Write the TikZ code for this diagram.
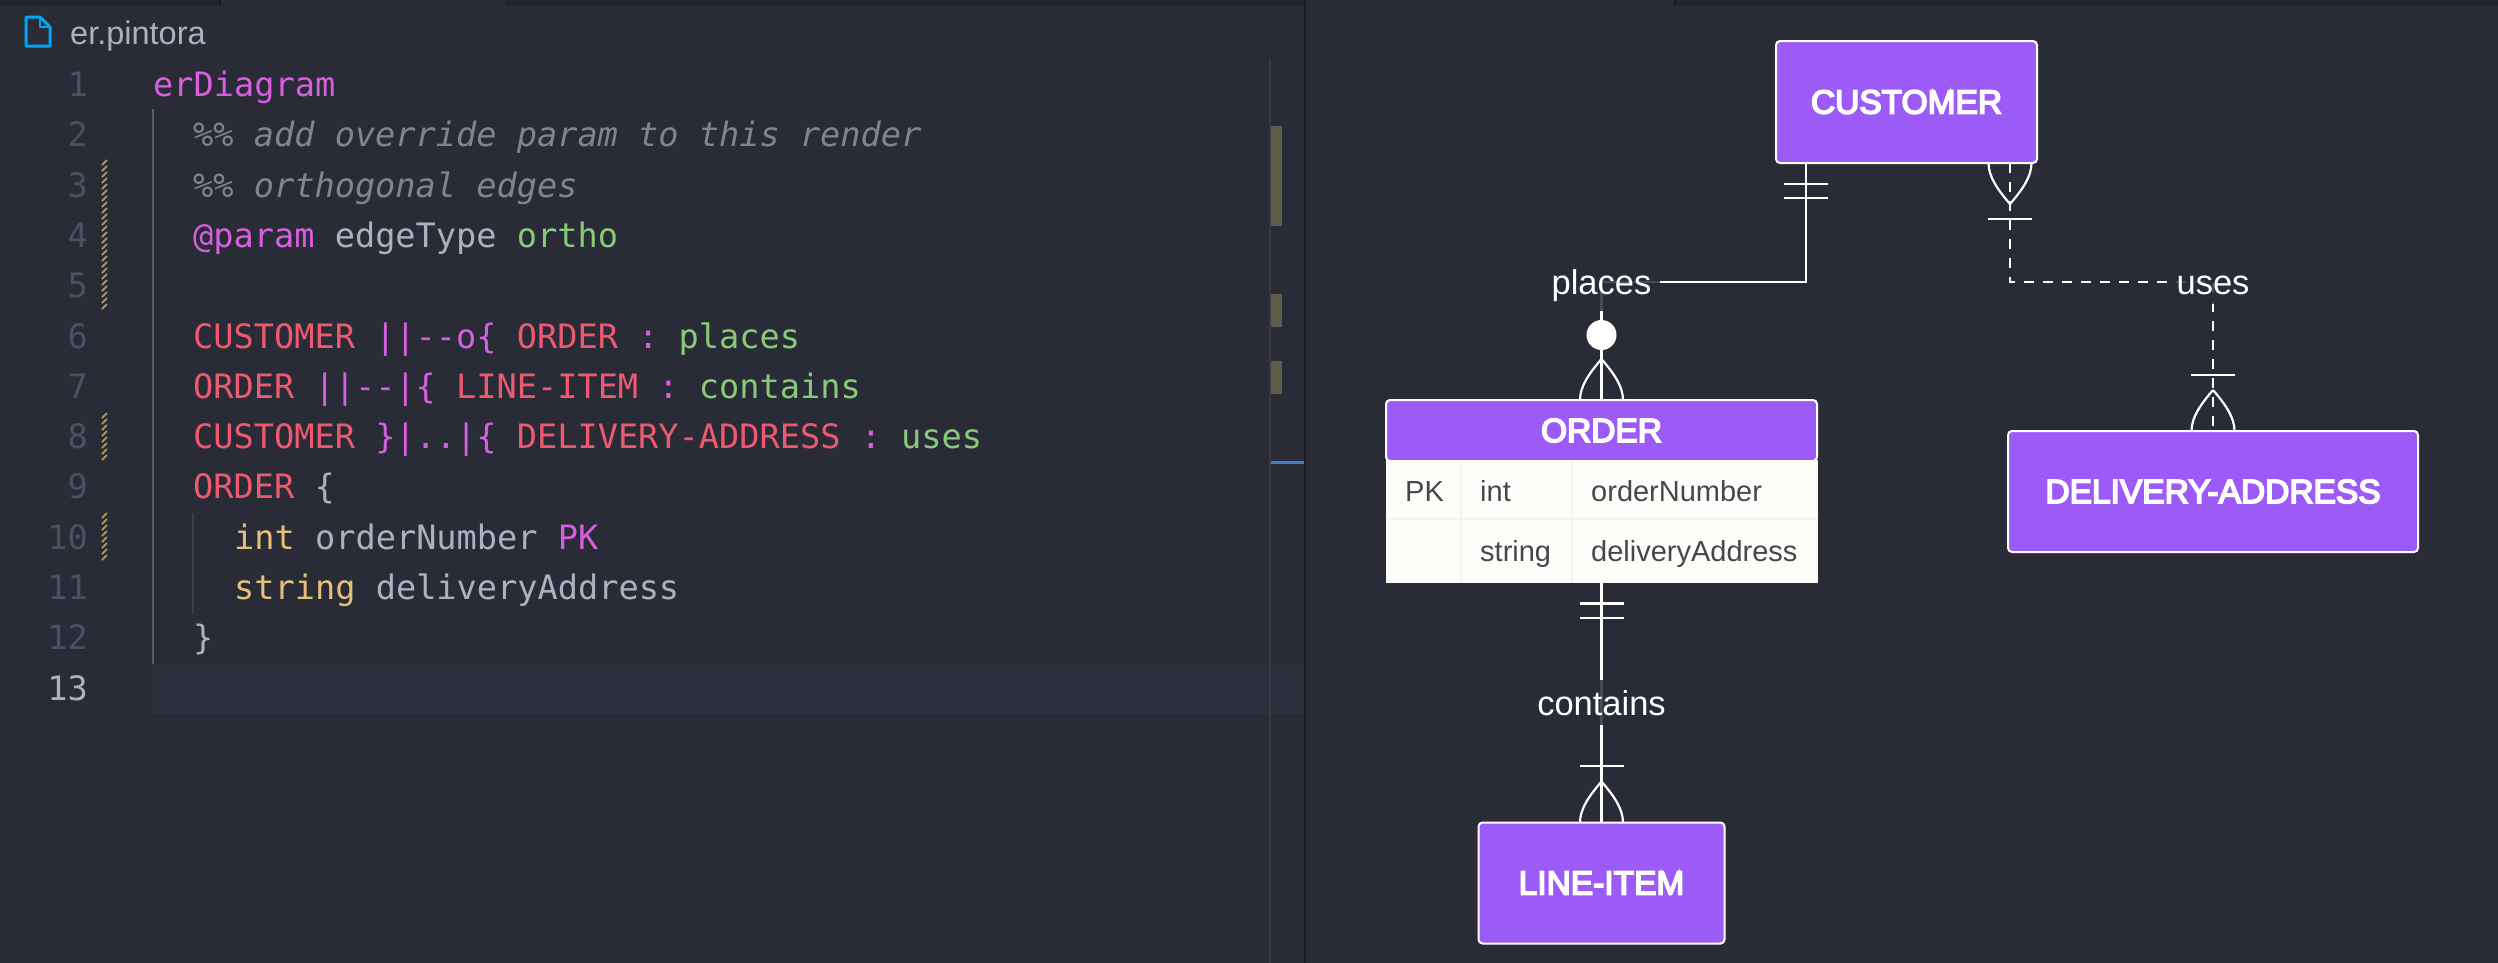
\documentclass[tikz,border=0pt]{standalone}
\usepackage{fontspec}
\setmainfont{Liberation Sans}
\newfontfamily\codefont{DejaVu Sans Mono}
\newfontfamily\titlefont[FakeBold=5]{Liberation Sans}
\usetikzlibrary{calc}

\definecolor{panelbg}{HTML}{292C36}
\definecolor{stripbg}{HTML}{21252E}
\definecolor{edgedark}{HTML}{1A1C23}
\definecolor{activeline}{HTML}{2C313D}
\definecolor{guide}{HTML}{5A5F6B}
\definecolor{guidefaint}{HTML}{3B404B}
\definecolor{gutternum}{HTML}{495162}
\definecolor{gutterhatch}{HTML}{A3945F}
\definecolor{rulerline}{HTML}{363A44}
\definecolor{rulermark}{HTML}{5F5C4A}
\definecolor{rulerblue}{HTML}{4A78CE}
\definecolor{codepurple}{HTML}{D55FDE}
\definecolor{codered}{HTML}{EF596F}
\definecolor{codegreen}{HTML}{89CA78}
\definecolor{codeyellow}{HTML}{E5C07B}
\definecolor{codegray}{HTML}{ABB2BF}
\definecolor{codenote}{HTML}{7F848E}
\definecolor{iconblue}{HTML}{00A6F5}
\definecolor{entityfill}{HTML}{9C5AF6}
\definecolor{rowfill}{HTML}{FFFDFA}
\definecolor{rowline}{HTML}{F6F4EF}
\definecolor{celltext}{HTML}{43484E}

\newcommand{\pur}[1]{\textcolor{codepurple}{#1}}
\newcommand{\rd}[1]{\textcolor{codered}{#1}}
\newcommand{\grn}[1]{\textcolor{codegreen}{#1}}
\newcommand{\yel}[1]{\textcolor{codeyellow}{#1}}

\pgfdeclarelayer{panel}
\pgfdeclarelayer{edges}
\pgfsetlayers{panel,edges,main}

\tikzset{
	codeline/.style = {anchor = base west, inner sep = 0pt, text = codegray, font = \codefont\fontsize{33.6}{40}\selectfont},
	linenum/.style = {anchor = base east, inner sep = 0pt, text = gutternum, font = \codefont\fontsize{33.6}{40}\selectfont},
	entity/.style = {draw = white, fill = entityfill, line width = 2pt, rounded corners = 4pt, outer sep = 0pt, text = white, font = \titlefont\fontsize{33.5}{40}\selectfont},
	cell/.style = {anchor = base west, inner sep = 0pt, text = celltext, font = \fontsize{29}{34}\selectfont},
	rellabel/.style = {anchor = base, fill = panelbg, fill opacity = 0.85, text opacity = 1, inner xsep = 9pt, inner ysep = 10pt, text = white, font = \fontsize{34.5}{40}\selectfont},
	rel/.style = {draw = white, line width = 2.2pt},
	reldash/.style = {rel, dash pattern = on 10pt off 9pt},
	crowmark/.pic = {
		\draw [rel] (0,-41) .. controls (-12,-27) and (-21.5,-14) .. (-21.5,0);
		\draw [rel] (0,-41) .. controls (12,-27) and (21.5,-14) .. (21.5,0);
	},
	barmark/.pic = {
		\draw [rel] (-22,0) -- (22,0);
	},
}

\begin{document}
\begin{tikzpicture}[x = 1pt, y = -1pt]
	\useasboundingbox (0,0) rectangle (2498,962);
	\begin{pgfonlayer}{panel}
		\fill [panelbg] (-3,-3) rectangle (2501,965);
		\fill [stripbg] (-3,-3) rectangle (220,6);
		\fill [stripbg] (506,-3) rectangle (1305,6);
		\fill [stripbg] (1675,-3) rectangle (2501,6);
		\draw [edgedark, line width = 1.5pt] (220,-3) -- (220,6);
		\draw [edgedark, line width = 1.5pt] (1675,-3) -- (1675,6);
		\fill [activeline] (152,664) rectangle (1305,714);
		\draw [guide, line width = 1.5pt] (153,109) -- (153,664);
		\draw [guidefaint, line width = 1.5pt] (193,513) -- (193,613);
		\draw [rulerline, line width = 1.5pt] (1270,59) -- (1270,965);
		\fill [rulermark] (1271,126) rectangle (1282,226);
		\fill [rulermark] (1271,294) rectangle (1282,327);
		\fill [rulermark] (1271,361) rectangle (1282,394);
		\fill [rulerblue] (1271,461) rectangle (1305,464);
		\draw [edgedark, line width = 2.5pt] (1305,-3) -- (1305,965);
		\foreach \ya/\yb/\yc in {160/166/304, 413/419/456, 513/519/557}
			\foreach \y in {\ya,\yb,...,\yc}
				\draw [gutterhatch, line width = 2pt] (102,\y+5) -- (107,\y);
	\end{pgfonlayer}

	\begin{scope}
		\draw [iconblue, line width = 3pt, line join = round] (26,17) -- (40,17) -- (50,27) -- (50,46) -- (26,46) -- cycle;
		\draw [iconblue, line width = 2.5pt, line join = round] (40,17) -- (40,27) -- (50,27);
		\node [anchor = base west, inner sep = 0pt, text = codegray, font = \fontsize{32.5}{38}\selectfont] (tabname) at (70,44) {er.pintora};
	\end{scope}

	\begin{scope}
		\foreach \n in {1,...,9}
			\node [linenum] (num\n) at (88,96.5+50.3*\n-50.3) {\n};
		\foreach \n in {10,11,12}
			\node [linenum] (num\n) at (88,96.5+50.3*\n-50.3) {\n};
		\node [linenum, text = codegray] (num13) at (88,700) {13};
	\end{scope}

	\begin{scope}
		\node [codeline] (code1) at (153,96.5) {\pur{erDiagram}};
		\node [codeline, text = codenote] (code2) at (193,146.8) {\itshape \%\% add override param to this render};
		\node [codeline, text = codenote] (code3) at (193,197.1) {\itshape \%\% orthogonal edges};
		\node [codeline] (code4) at (193,247.4) {\pur{@param} edgeType \grn{ortho}};
		\node [codeline] (code6) at (193,348) {\rd{CUSTOMER} \pur{||--o\{} \rd{ORDER} \pur{:} \grn{places}};
		\node [codeline] (code7) at (193,398.3) {\rd{ORDER} \pur{||--|\{} \rd{LINE-ITEM} \pur{:} \grn{contains}};
		\node [codeline] (code8) at (193,448.6) {\rd{CUSTOMER} \pur{\}|..|\{} \rd{DELIVERY-ADDRESS} \pur{:} \grn{uses}};
		\node [codeline] (code9) at (193,498.9) {\rd{ORDER} \{};
		\node [codeline] (code10) at (234,549.2) {\yel{int} orderNumber \pur{PK}};
		\node [codeline] (code11) at (234,599.5) {\yel{string} deliveryAddress};
		\node [codeline] (code12) at (193,649.8) {\}};
	\end{scope}

	\begin{scope}
		\node [entity, minimum width = 261pt, minimum height = 122pt] (customer) at (1906.5,102) {CUSTOMER};
		\node [entity, minimum width = 431pt, minimum height = 61pt] (order) at (1601.5,430.5) {ORDER};
		\node [fill = rowfill, inner sep = 0pt, outer sep = 0pt, minimum width = 432pt, minimum height = 123.4pt] (orderbody) at (1601.5,521.3) {};
		\node [entity, minimum width = 246pt, minimum height = 121pt] (lineitem) at (1601.5,883) {LINE-ITEM};
		\node [entity, minimum width = 410pt, minimum height = 121pt] (address) at (2213,491.5) {DELIVERY-ADDRESS};
	\end{scope}

	\begin{scope}
		\draw [rowline, line width = 2pt] (orderbody.west |- 0,519) -- (orderbody.east |- 0,519);
		\draw [rowline, line width = 2pt] (1461,461) -- (1461,583);
		\draw [rowline, line width = 2pt] (1571.5,461) -- (1571.5,583);
		\node [cell] (cellpk) at (1405,501) {PK};
		\node [cell] (celltypea) at (1480,501) {int};
		\node [cell] (cellnamea) at (1591,501) {orderNumber};
		\node [cell] (celltypeb) at (1480,561) {string};
		\node [cell] (cellnameb) at (1591,561) {deliveryAddress};
	\end{scope}

	\begin{scope}
		\node [rellabel] (places) at (1601.5,294) {places};
		\node [rellabel] (contains) at (1601.5,715) {contains};
		\node [rellabel] (uses) at (2213,294) {uses};
		\node [circle, fill = white, inner sep = 0pt, minimum size = 30pt] (placesdot) at (1601.5,335) {};
		\coordinate (custplaces) at (1806,163);
		\coordinate (custuses) at (2010,163);
		\coordinate (placesbend) at (1601.5,282);
		\coordinate (usesbend) at (2213,282);
	\end{scope}

	\begin{pgfonlayer}{edges}
		\draw [rel] (custplaces) |- (placesbend) -- (order.north);
		\draw [reldash] (custuses) |- (usesbend) -- (address.north);
		\draw [rel] (orderbody.south) -- (lineitem.north);
		\pic at (order.north) {crowmark};
		\pic at (lineitem.north) {crowmark};
		\pic at (address.north) {crowmark};
		\pic [yscale = -1] at (custuses) {crowmark};
		\pic at (1806,184) {barmark};
		\pic at (1806,198) {barmark};
		\pic at (2010,219) {barmark};
		\pic at (2213,375) {barmark};
		\pic at (1601.5,603.5) {barmark};
		\pic at (1601.5,618) {barmark};
		\pic at (1601.5,766) {barmark};
	\end{pgfonlayer}
\end{tikzpicture}
\end{document}
